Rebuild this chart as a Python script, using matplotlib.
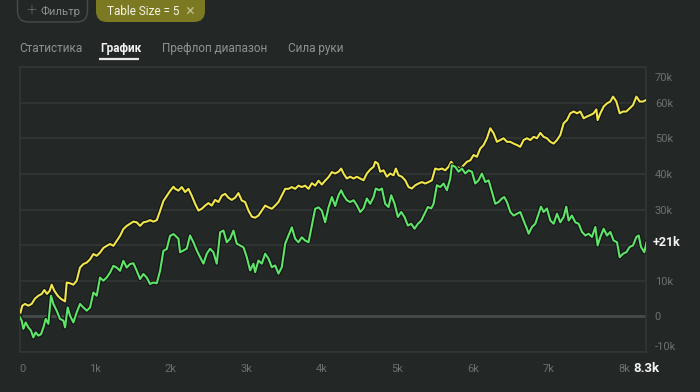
import matplotlib.pyplot as plt
import matplotlib.patheffects as pe
import matplotlib.transforms as mtransforms
from matplotlib.patches import FancyBboxPatch

# winnings graph, profit in thousands
hands_yellow = [
    0, 37, 73, 117, 161, 205, 250, 294, 329, 364, 400, 426, 461, 506, 550, 603, 625, 669,
    713, 757, 801, 846, 890, 934, 978, 1022, 1066, 1110, 1154, 1199, 1243, 1287, 1331,
    1375, 1419, 1464, 1508, 1552, 1596, 1640, 1684, 1728, 1773, 1817, 1861, 1905, 1949,
    1993, 2038,
    2060, 2104, 2148, 2192, 2236, 2280, 2325, 2369, 2413, 2457, 2501, 2545, 2589, 2634,
    2678, 2722, 2766, 2810, 2854, 2898, 2943, 2987, 3031, 3075, 3119, 3163, 3208, 3252,
    3296, 3340, 3384, 3428, 3472, 3517, 3561, 3605, 3649, 3693, 3737, 3781, 3826, 3870,
    3914, 3958, 4002, 4046, 4091, 4135,
    4179, 4223, 4258, 4289, 4333, 4377, 4422, 4466, 4510, 4554, 4598, 4642, 4687, 4709,
    4744, 4775, 4819, 4863, 4907, 4951, 4982, 5018, 5062, 5106, 5150, 5194, 5238, 5283,
    5327, 5371, 5415, 5459, 5503, 5547, 5592, 5636, 5680, 5715, 5746, 5790, 5834, 5879,
    5923, 5967, 6011, 6055, 6099, 6144, 6188,
    6232, 6276, 6320, 6364, 6408, 6453, 6497, 6541, 6585, 6629, 6673, 6717, 6762, 6806,
    6850, 6894, 6938, 6982, 7027, 7071, 7115, 7159, 7203, 7247, 7291, 7336, 7380, 7424,
    7468, 7512, 7556, 7600, 7636, 7653, 7689, 7733, 7777, 7821, 7857, 7901, 7945, 7989,
    8033, 8077, 8121, 8166, 8210, 8254, 8300,
]
profit_yellow = [
    0, 3, 3.5, 3, 3.5, 5, 5.8, 6.3, 7.4, 6.3, 7.2, 8.9, 7.2, 5.8, 4.9, 4.2, 9.5, 9.3,
    8.9, 10, 13.7, 14.7, 15.1, 16, 17.5, 17, 17.9, 19.2, 19.8, 20.3, 19.8, 21.2, 22.6,
    24.5, 25.4, 26, 26.6, 26.4, 25.4, 26.4, 26.6, 27, 26.6, 27, 29.6, 32.4, 33.8,
    35.2, 36.4,
    35.8, 35.3, 36.3, 34.9, 35.8, 33.9, 31.6, 29.7, 30.2, 31.1, 31.8, 31.1, 32.7, 32.1,
    33.9, 34.4, 33.3, 32.7, 33.3, 34.6, 32.5, 32.1, 29.7, 28, 27.7, 28.3, 29.7, 31.1,
    30.6, 30.2, 31.1, 32.1, 33.9, 35.8, 35.8, 36.3, 35.8, 36.7, 36.3, 36.7, 35.8, 37.4,
    36.7, 38.1, 37, 38.1, 39.1, 40.5,
    40.1, 40.6, 41.5, 40.1, 38.7, 39.2, 38.7, 39.2, 38.7, 38.2, 40.1, 41.2, 42, 43.4,
    42.9, 40.6, 41, 39.2, 40.1, 39.6, 41.5, 39.6, 39.2, 38.2, 36.3, 35.9, 36.8, 37.3,
    37.7, 37.3, 37.7, 38.2, 41.5, 41.2, 41.5, 41, 42, 43.4, 42.4, 42, 41.5, 42.4,
    43.4, 43.8, 45.3, 44.8, 47.1, 48.1, 50,
    52.8, 51.4, 49, 49.5, 50, 49, 49, 48.5, 48.1, 47.6, 49.5, 50, 49.5, 50.4,
    50, 51.5, 50.4, 50, 49, 48.5, 49.5, 50.9, 54.2, 55.1, 57, 57.5, 57, 57.5,
    55.6, 56.1, 56.5, 57, 58.1, 55.1, 57, 58.9, 59.8, 60.3, 61.7, 60.3, 57, 57.5,
    57.5, 58.4, 59.3, 61.7, 60.3, 60.3, 60.8,
]
hands_green = [
    0, 29, 51, 82, 117, 152, 183, 214, 250, 285, 316, 347, 382, 417, 448, 492, 536, 581,
    603, 638, 669, 713, 757, 801, 846, 890, 934, 978, 1022, 1066, 1110, 1154, 1199, 1243,
    1287, 1331, 1375, 1419, 1464, 1508, 1552, 1596, 1640, 1684, 1728, 1773, 1817, 1861,
    1905, 1949, 1993, 2038,
    2060, 2104, 2126, 2170, 2214, 2258, 2302, 2347, 2391, 2435, 2479, 2523, 2567, 2611,
    2656, 2700, 2744, 2788, 2832, 2876, 2921, 2965, 3009, 3053, 3097, 3119, 3163, 3208,
    3252, 3296, 3340, 3384, 3428, 3472, 3517, 3561, 3605, 3649, 3693, 3737, 3781, 3826,
    3870, 3914, 3958, 4002, 4046, 4091, 4135,
    4179, 4223, 4258, 4289, 4333, 4377, 4422, 4466, 4510, 4554, 4598, 4642, 4687, 4717,
    4762, 4797, 4841, 4885, 4921, 4965, 5009, 5053, 5097, 5141, 5185, 5230, 5274, 5318,
    5362, 5406, 5450, 5481, 5525, 5570, 5614, 5658, 5702, 5724, 5768, 5812, 5857, 5901,
    5945, 5989, 6033, 6077, 6121, 6166, 6210,
    6267, 6298, 6342, 6386, 6417, 6453, 6497, 6541, 6585, 6629, 6673, 6717, 6740, 6784,
    6828, 6872, 6903, 6938, 6982, 7027, 7071, 7115, 7159, 7203, 7238, 7269, 7313, 7358,
    7402, 7446, 7490, 7534, 7578, 7623, 7653, 7689, 7733, 7777, 7821, 7865, 7910, 7945,
    7989, 8033, 8077, 8121, 8166, 8197, 8227, 8271, 8300,
]
profit_green = [
    0, -1.2, -3.5, -1.7, -3.1, -4, -5.9, -4.5, -5.4, -5, -3.1, -0.7, -2.1, 5.8, 3.5, 1.6,
    -0.7, -1.2, -3.1, 2.5, 0.2, -1.7, 1.1, 3.5, 2.5, 1.6, 2.5, 6.7, 5.8, 10.9, 10, 10.9,
    12.3, 14.2, 13.7, 12.8, 15.6, 13.7, 14.7, 14.9, 12.8, 10.5, 11.9, 10.9, 9.1, 9.5,
    9.3, 12.8, 18.4, 18.9, 22.6, 23.1,
    22.7, 21.8, 18, 18.5, 19, 22.7, 20.8, 18.5, 16.6, 14.8, 17.6, 19, 18, 14.8,
    23.6, 24.1, 20.8, 21.8, 24.1, 20.4, 19.9, 19.4, 16.6, 12.9, 14.8, 12.4, 15.7, 14.8,
    17.6, 16.2, 13.8, 14.3, 12, 13.8, 20.4, 22.7, 25, 21.8, 20.8, 22.2, 21.3, 20.8,
    25.5, 30.2, 30.6, 29.7, 26.4, 30.6, 33.5,
    31, 34, 35.4, 34, 32.6, 32.1, 32.6, 31.2, 29.3, 30.3, 33.1, 31.6, 33.5, 35.9,
    35.4, 35.9, 31.6, 30.7, 34, 31.6, 27.9, 29.3, 27.9, 25.5, 26, 24.6, 26, 26.9,
    28.8, 30.7, 30.3, 31.6, 36.8, 36.3, 37.3, 35.4, 38.7, 42.4, 42, 40.6, 41.5, 40.1,
    41, 40.6, 37.3, 38.2, 40.1, 37.7, 38.2,
    34, 31.6, 32.1, 33.1, 33.5, 32.1, 29.3, 28.3, 28.8, 29.3, 26.9, 24.6, 23.2, 25.1,
    26, 28.8, 30.8, 29.3, 30.3, 26.9, 26, 28.8, 26.4, 27.9, 30.8, 26.9, 28.3, 26.4,
    26, 23.7, 22.7, 23.2, 22.3, 25.1, 19.9, 22.3, 24.6, 22.7, 23.7, 21.3, 20.8, 16.6,
    17.6, 18, 19.5, 19.9, 22.3, 22.7, 19.5, 18, 20.8,
]

x_ticks = [0, 1000, 2000, 3000, 4000, 5000, 6000, 7000, 8000]
x_tick_labels = ['0', '1k', '2k', '3k', '4k', '5k', '6k', '7k', '8k']
y_ticks = [-10, 0, 10, 20, 30, 40, 50, 60, 70]
y_tick_labels = ['-10k', '0', '10k', '', '30k', '40k', '50k', '60k', '70k']
tabs = ['Статистика', 'График', 'Префлоп диапазон', 'Сила руки']
tab_x = [19, 100, 162, 288]

BG = '#232827'
GRID = '#323736'
TICK = '#6b706f'
FONT = 'Roboto'
W, H = 700, 392

fig = plt.figure(figsize=(7, 3.92), dpi=100, facecolor=BG)

# header (pixel coordinates)
top = fig.add_axes([0, 0, 1, 1])
top.set_xlim(0, W)
top.set_ylim(H, 0)
top.axis('off')

top.add_patch(FancyBboxPatch((17.5, -12), 70, 34, boxstyle='round,pad=0,rounding_size=11',
                             fc='none', ec='#474c4b', lw=1))
top.text(31, 11, '+', color='#8e9392', fontsize=13, ha='center', va='center',
         family=FONT, fontweight='light')
top.text(40.5, 11.5, 'Фильтр', color='#8e9392', fontsize=8.2, ha='left', va='center', family=FONT)

top.add_patch(FancyBboxPatch((96, -12), 109, 34, boxstyle='round,pad=0,rounding_size=11',
                             fc='#7b7a22', ec='none'))
top.text(107, 11.5, 'Table Size = 5', color='#f4f3e4', fontsize=8.5, ha='left', va='center', family=FONT)
top.text(190, 11, '×', color='#bdbc8c', fontsize=12, ha='center', va='center', family=FONT)

for label, x in zip(tabs, tab_x):
    active = label == 'График'
    top.text(x, 48, label, color='#f2f2f2' if active else '#8e9392', fontsize=8.5,
             fontweight='bold' if active else 'normal', ha='left', va='center', family=FONT)
top.plot([99, 139], [58.5, 58.5], color='#e8e8e8', lw=1.6, solid_capstyle='butt')

# graph
ax = fig.add_axes([19.5 / W, 1 - 352 / H, 627 / W, 285 / H])
ax.set_facecolor('none')
ax.set_xlim(0, 8300)
ax.set_ylim(-10, 70)

for v in y_ticks:
    ax.axhline(v, color='#474c4b' if v == 0 else GRID, lw=2 if v == 0 else 1.2, zorder=1)
for side in ['left', 'right', 'top', 'bottom']:
    ax.spines[side].set_color(GRID)
    ax.spines[side].set_linewidth(1.2)

shadow = [pe.Stroke(linewidth=3.2, foreground='#121514'), pe.Normal()]
ax.plot(hands_yellow, profit_yellow, color='#f0e54c', lw=1.5, zorder=3, path_effects=shadow)
ax.plot(hands_green, profit_green, color='#5fe46a', lw=1.5, zorder=4, path_effects=shadow)

ax.yaxis.tick_right()
ax.set_yticks(y_ticks)
ax.set_yticklabels(y_tick_labels)
ax.set_xticks(x_ticks)
ax.set_xticklabels(x_tick_labels)
ax.tick_params(length=0, colors=TICK, labelsize=8)
ax.tick_params(axis='y', pad=6)
ax.tick_params(axis='x', pad=9)
for t in ax.get_xticklabels() + ax.get_yticklabels():
    t.set_family(FONT)
ylabels = ax.get_yticklabels()
ylabels[0].set_va('bottom')
ylabels[-1].set_va('top')
ylabels[-1].set_transform(ylabels[-1].get_transform() +
                          mtransforms.ScaledTranslation(0, -4 / 72, fig.dpi_scale_trans))
ax.get_xticklabels()[0].set_ha('left')

# current values
last = profit_green[-1]
ax.text(1.0 + 6 / 627, last, f'+{round(last):d}k', transform=ax.get_yaxis_transform(),
        color='#f4f4f4', fontsize=9, fontweight='bold', ha='left', va='center',
        family=FONT, clip_on=False)
ax.text(hands_green[-1], -12.7, f'{hands_green[-1] / 1000:.1f}k', transform=ax.transData,
        color='#f4f4f4', fontsize=9.5, fontweight='bold', ha='center', va='top',
        family=FONT, clip_on=False)

fig.savefig('out.png', dpi=100, facecolor=BG)
